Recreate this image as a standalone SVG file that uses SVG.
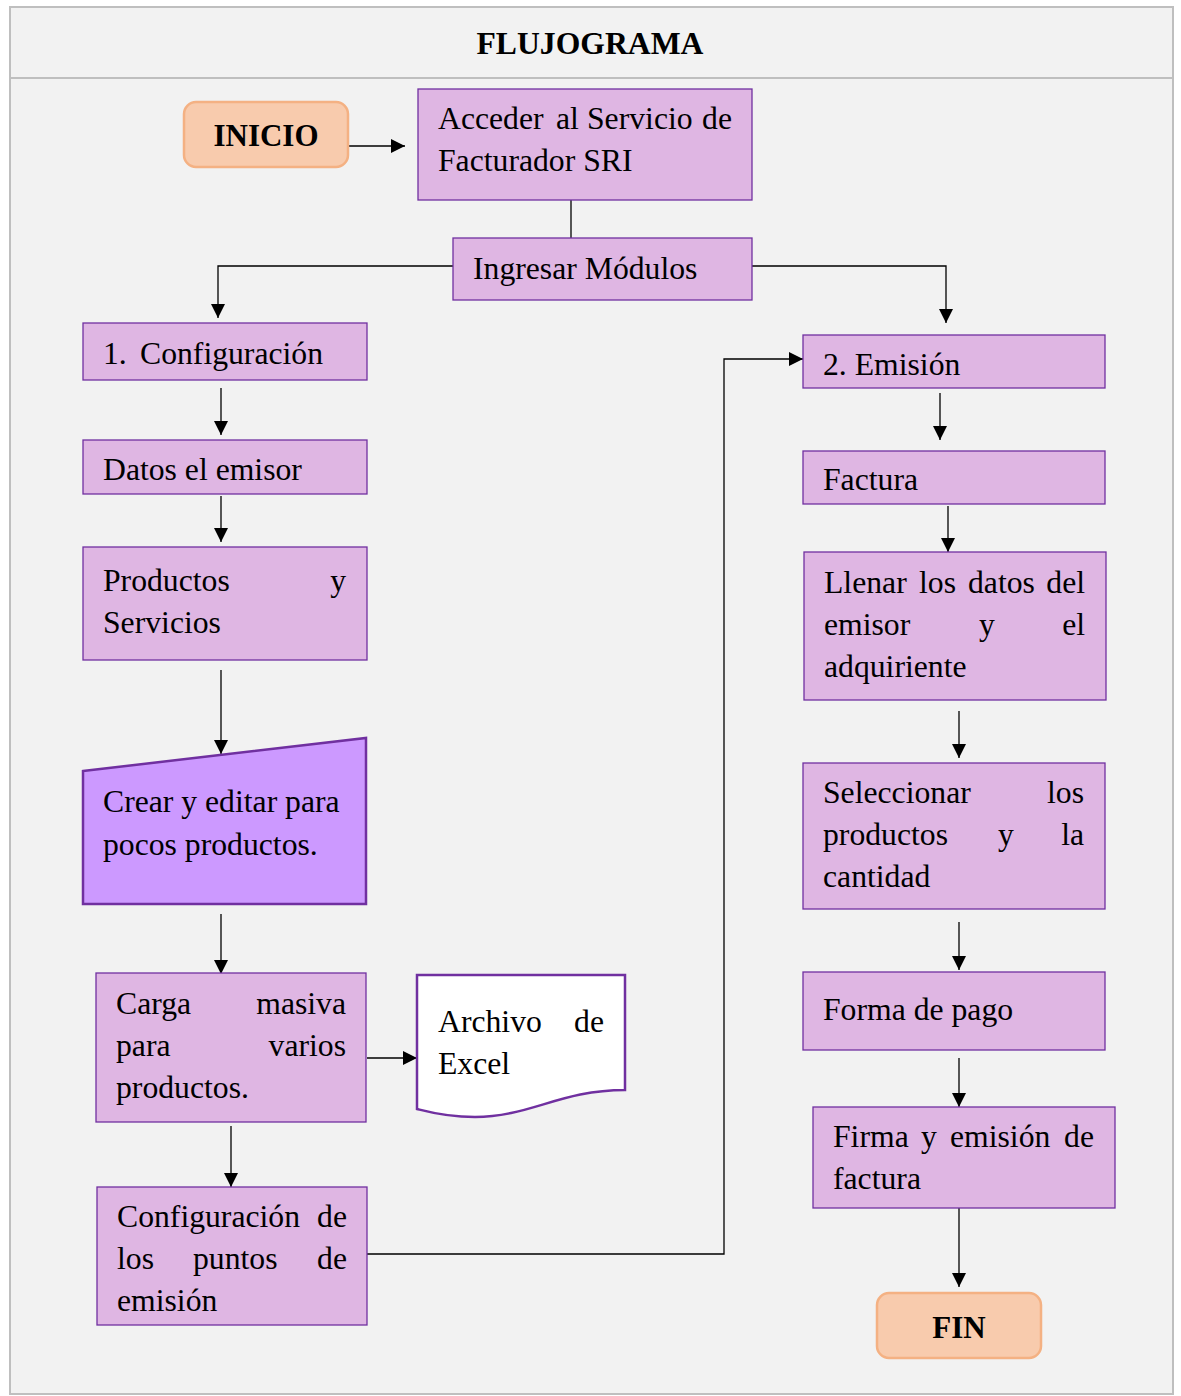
<svg xmlns="http://www.w3.org/2000/svg" width="1181" height="1396" viewBox="0 0 1181 1396">
<style>
.bg{fill:#f2f2f2;stroke:#bfbfbf;stroke-width:2}
.box{fill:#dfb6e3;stroke:#7030a0;stroke-width:1.3}
.term{fill:#f8cbad;stroke:#f4b183;stroke-width:2.5}
.t{font-family:"Liberation Serif","Times New Roman",serif;font-size:31.7px;fill:#000}
.b{font-family:"Liberation Serif","Times New Roman",serif;font-size:31px;font-weight:bold;fill:#000;text-anchor:middle}
.e{text-anchor:end}
.m{text-anchor:middle}
.c{fill:none;stroke:#000;stroke-width:1.3}
</style>
<defs>
<marker id="ah" viewBox="0 0 10 10" refX="10" refY="5" markerWidth="14" markerHeight="14" markerUnits="userSpaceOnUse" orient="auto">
<path d="M0,0 L10,5 L0,10 Z" fill="#000"/>
</marker>
</defs>
<rect class="bg" x="10" y="7" width="1163" height="1387"/>
<line x1="10" y1="78" x2="1173" y2="78" stroke="#bfbfbf" stroke-width="2"/>
<text x="590" y="54" class="b" font-size="30" textLength="227" lengthAdjust="spacingAndGlyphs">FLUJOGRAMA</text>

<g id="connectors">
<line class="c" x1="348" y1="146" x2="405" y2="146" marker-end="url(#ah)"/>
<line class="c" x1="571" y1="183" x2="571" y2="238"/>
<polyline class="c" points="453,266 218,266 218,318" marker-end="url(#ah)"/>
<polyline class="c" points="752,266 946,266 946,323" marker-end="url(#ah)"/>
<line class="c" x1="221" y1="388" x2="221" y2="435" marker-end="url(#ah)"/>
<line class="c" x1="221" y1="496" x2="221" y2="542" marker-end="url(#ah)"/>
<line class="c" x1="221" y1="670" x2="221" y2="754" marker-end="url(#ah)"/>
<line class="c" x1="221" y1="914" x2="221" y2="974" marker-end="url(#ah)"/>
<line class="c" x1="367" y1="1058" x2="417" y2="1058" marker-end="url(#ah)"/>
<line class="c" x1="231" y1="1126" x2="231" y2="1187" marker-end="url(#ah)"/>
<polyline class="c" points="367,1254 724,1254 724,359 803,359" marker-end="url(#ah)"/>
<line class="c" x1="940" y1="393" x2="940" y2="440" marker-end="url(#ah)"/>
<line class="c" x1="948" y1="506" x2="948" y2="552" marker-end="url(#ah)"/>
<line class="c" x1="959" y1="711" x2="959" y2="758" marker-end="url(#ah)"/>
<line class="c" x1="959" y1="922" x2="959" y2="970" marker-end="url(#ah)"/>
<line class="c" x1="959" y1="1058" x2="959" y2="1107" marker-end="url(#ah)"/>
<line class="c" x1="959" y1="1208" x2="959" y2="1287" marker-end="url(#ah)"/>
</g>

<g id="inicio">
<rect class="term" x="184" y="102" width="164" height="65" rx="12"/>
<text class="b" x="266" y="146">INICIO</text>
</g>

<g id="acceder">
<rect class="box" x="418" y="89" width="334" height="111"/>
<text class="t" y="129"><tspan x="438">Acceder</tspan><tspan x="556">al</tspan><tspan x="587">Servicio</tspan><tspan x="732" class="e">de</tspan></text>
<text class="t" x="438" y="171">Facturador SRI</text>
</g>

<g id="ingresar">
<rect class="box" x="453" y="238" width="299" height="62"/>
<text class="t" x="473" y="279">Ingresar Módulos</text>
</g>

<g id="configuracion">
<rect class="box" x="83" y="323" width="284" height="57"/>
<text class="t" y="364"><tspan x="103">1.</tspan><tspan x="140">Configuración</tspan></text>
</g>

<g id="datos">
<rect class="box" x="83" y="440" width="284" height="54"/>
<text class="t" x="103" y="480">Datos el emisor</text>
</g>

<g id="productos">
<rect class="box" x="83" y="547" width="284" height="113"/>
<text class="t" y="591"><tspan x="103">Productos</tspan><tspan x="346" class="e">y</tspan></text>
<text class="t" x="103" y="633">Servicios</text>
</g>

<g id="crear">
<polygon points="83,771 366,738 366,904 83,904" fill="#cc99ff" stroke="#7030a0" stroke-width="2.5"/>
<text class="t" x="103" y="812">Crear y editar para</text>
<text class="t" x="103" y="855">pocos productos.</text>
</g>

<g id="carga">
<rect class="box" x="96" y="973" width="270" height="149"/>
<text class="t" y="1014"><tspan x="116">Carga</tspan><tspan x="346" class="e">masiva</tspan></text>
<text class="t" y="1056"><tspan x="116">para</tspan><tspan x="346" class="e">varios</tspan></text>
<text class="t" x="116" y="1098">productos.</text>
</g>

<g id="excel">
<path d="M417,975 H625 V1090 C560,1090 530,1117 475,1117 C445,1117 425,1111 417,1109 Z" fill="#ffffff" stroke="#7030a0" stroke-width="2.5"/>
<text class="t" y="1032"><tspan x="438">Archivo</tspan><tspan x="604" class="e">de</tspan></text>
<text class="t" x="438" y="1074">Excel</text>
</g>

<g id="puntos">
<rect class="box" x="97" y="1187" width="270" height="138"/>
<text class="t" y="1227"><tspan x="117">Configuración</tspan><tspan x="347" class="e">de</tspan></text>
<text class="t" y="1269"><tspan x="117">los</tspan><tspan x="193">puntos</tspan><tspan x="347" class="e">de</tspan></text>
<text class="t" x="117" y="1311">emisión</text>
</g>

<g id="emision">
<rect class="box" x="803" y="335" width="302" height="53"/>
<text class="t" x="823" y="375">2. Emisión</text>
</g>

<g id="factura">
<rect class="box" x="803" y="451" width="302" height="53"/>
<text class="t" x="823" y="490">Factura</text>
</g>

<g id="llenar">
<rect class="box" x="804" y="552" width="302" height="148"/>
<text class="t" y="593"><tspan x="824">Llenar</tspan><tspan x="919">los</tspan><tspan x="968">datos</tspan><tspan x="1085" class="e">del</tspan></text>
<text class="t" y="635"><tspan x="824">emisor</tspan><tspan x="987" class="m">y</tspan><tspan x="1085" class="e">el</tspan></text>
<text class="t" x="824" y="677">adquiriente</text>
</g>

<g id="seleccionar">
<rect class="box" x="803" y="763" width="302" height="146"/>
<text class="t" y="803"><tspan x="823">Seleccionar</tspan><tspan x="1084" class="e">los</tspan></text>
<text class="t" y="845"><tspan x="823">productos</tspan><tspan x="1006" class="m">y</tspan><tspan x="1084" class="e">la</tspan></text>
<text class="t" x="823" y="887">cantidad</text>
</g>

<g id="pago">
<rect class="box" x="803" y="972" width="302" height="78"/>
<text class="t" x="823" y="1020">Forma de pago</text>
</g>

<g id="firma">
<rect class="box" x="813" y="1107" width="302" height="101"/>
<text class="t" y="1147"><tspan x="833">Firma</tspan><tspan x="921">y</tspan><tspan x="950">emisión</tspan><tspan x="1094" class="e">de</tspan></text>
<text class="t" x="833" y="1189">factura</text>
</g>

<g id="fin">
<rect class="term" x="877" y="1293" width="164" height="65" rx="12"/>
<text class="b" x="959" y="1338">FIN</text>
</g>
</svg>
